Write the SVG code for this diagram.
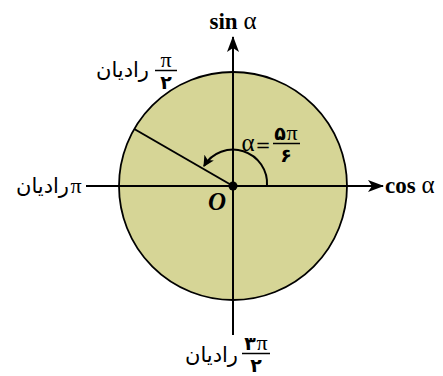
<svg xmlns="http://www.w3.org/2000/svg" width="443" height="376" viewBox="0 0 443 376">
<defs>
<marker id="ah" viewBox="0 0 10 10" refX="9" refY="5" markerWidth="11" markerHeight="11" markerUnits="userSpaceOnUse" orient="auto">
<path d="M0,0 L10,5 L0,10 L2.5,5 z" fill="#000"/>
</marker>
<marker id="ax" viewBox="0 0 16 12" refX="15" refY="6" markerWidth="16" markerHeight="12" markerUnits="userSpaceOnUse" orient="auto">
<path d="M0,0 L16,6 L0,12 L4,6 z" fill="#000"/>
</marker>
</defs>
<style>
.ln{stroke:#000;stroke-width:2;fill:none}
.fa{font-family:"DejaVu Sans",sans-serif;fill:#000}
.sr{font-family:"Liberation Serif",serif;font-weight:bold;fill:#000}
.pi{font-family:"Liberation Serif",serif;fill:#000}
</style>
<g id="circle">
<circle cx="233" cy="186" r="114" fill="#d6d596" stroke="#000" stroke-width="1.8"/>
</g>
<g id="connectors">
<line class="ln" x1="86" y1="186" x2="383" y2="186" marker-end="url(#ax)"/>
<line class="ln" x1="233" y1="335" x2="233" y2="37" marker-end="url(#ax)"/>
<line class="ln" x1="233" y1="186" x2="134.3" y2="129"/>
<path class="ln" d="M267,186 A34,34 0 0 0 204,166" marker-end="url(#ah)"/>
</g>
<g id="origin">
<circle cx="233" cy="186" r="4.5" fill="#000"/>
<text class="sr" x="217" y="210" font-size="25" font-style="italic" text-anchor="middle">O</text>
</g>
<g id="sin-label"><text class="sr" x="233" y="29" font-size="23" text-anchor="middle">sin <tspan font-weight="normal" font-size="25">α</tspan></text></g>
<g id="cos-label"><text class="sr" x="385" y="193" font-size="23">cos <tspan font-weight="normal" font-size="25">α</tspan></text></g>
<g id="alpha-label">
<text class="pi" x="248" y="151" font-size="25" text-anchor="middle">α</text>
<text class="fa" x="263" y="151" font-size="18" text-anchor="middle">=</text>
<text class="fa" x="280" y="140" font-size="19" font-weight="bold" text-anchor="middle">۵</text>
<text class="pi" x="292" y="140" font-size="22" text-anchor="middle">π</text>
<line x1="273" y1="143.5" x2="300" y2="143.5" stroke="#000" stroke-width="1.5"/>
<text class="fa" x="286" y="162" font-size="19" font-weight="bold" text-anchor="middle">۶</text>
</g>
<g id="top-label">
<text class="fa" x="149" y="77" font-size="21" text-anchor="end">رادیان</text>
<text class="pi" x="166" y="67" font-size="22" text-anchor="middle">π</text>
<line x1="155" y1="70.5" x2="177" y2="70.5" stroke="#000" stroke-width="1.5"/>
<text class="fa" x="166" y="89" font-size="19" font-weight="bold" text-anchor="middle">۲</text>
</g>
<g id="left-label">
<text class="fa" x="69" y="193" font-size="21" text-anchor="end">رادیان</text>
<text class="pi" x="76" y="193" font-size="22" text-anchor="middle">π</text>
</g>
<g id="bottom-label">
<text class="fa" x="238" y="362" font-size="21" text-anchor="end">رادیان</text>
<text class="fa" x="250" y="350" font-size="19" font-weight="bold" text-anchor="middle">۳</text>
<text class="pi" x="262" y="350" font-size="22" text-anchor="middle">π</text>
<line x1="242" y1="353.5" x2="270" y2="353.5" stroke="#000" stroke-width="1.5"/>
<text class="fa" x="256" y="372" font-size="19" font-weight="bold" text-anchor="middle">۲</text>
</g>
</svg>
